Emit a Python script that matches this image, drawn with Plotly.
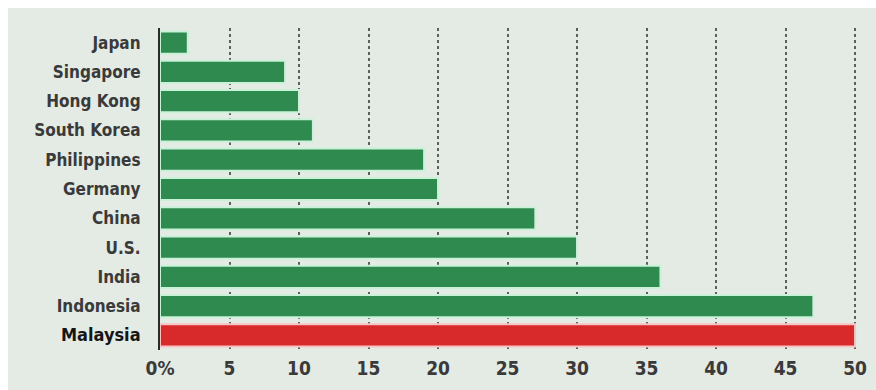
import plotly.graph_objects as go

# Share values per country (percent), listed top to bottom
countries = ["Japan", "Singapore", "Hong Kong", "South Korea", "Philippines",
             "Germany", "China", "U.S.", "India", "Indonesia", "Malaysia"]
values = [2, 9, 10, 11, 19, 20, 27, 30, 36, 47, 50]
highlight = "Malaysia"

tick_vals = [0, 5, 10, 15, 20, 25, 30, 35, 40, 45, 50]
tick_text = ["0%", "5", "10", "15", "20", "25", "30", "35", "40", "45", "50"]

GREEN = "#2f8a4f"
GREEN_EDGE = "#c9f2d9"
RED = "#d82a2a"
RED_EDGE = "#f7c4c4"
PANEL = "#e4eae4"
FONT = "DejaVu Sans Condensed, Roboto, sans-serif"

fill = [RED if c == highlight else GREEN for c in countries]
edge = [RED_EDGE if c == highlight else GREEN_EDGE for c in countries]
labels = [f"<span style='font-size:18px;color:#151515'>{c}</span>" if c == highlight else c
          for c in countries]

fig = go.Figure(go.Bar(
    x=values, y=countries, orientation="h",
    marker=dict(color=fill, line=dict(color=edge, width=2)),
    width=0.76, hoverinfo="x+y",
))

fig.update_layout(
    width=876, height=390,
    margin=dict(l=160, r=14, t=28, b=40),
    paper_bgcolor=PANEL, plot_bgcolor=PANEL,
    showlegend=False,
    font=dict(family=FONT, color="#2b2b2b"),
    shapes=[
        # white strips framing the panel
        dict(type="rect", xref="paper", yref="paper", x0=-0.4, x1=1.2,
             y0=1 + 20 / 322, y1=1.3, fillcolor="white", line_width=0, layer="below"),
        dict(type="rect", xref="paper", yref="paper", x0=-0.4, x1=-152 / 702,
             y0=-0.3, y1=1.3, fillcolor="white", line_width=0, layer="below"),
    ],
)

fig.update_xaxes(
    range=[0, 50.5], tickvals=tick_vals, ticktext=tick_text,
    showgrid=True, gridcolor="#5e5e5e", griddash="dot", gridwidth=1.5,
    zeroline=False, showline=False, ticks="", automargin=False,
    tickfont=dict(size=19, color="#3a3a3a", family=FONT, weight="bold"),
    ticklabelstandoff=5,
)
fig.update_yaxes(
    categoryorder="array", categoryarray=countries, autorange="reversed",
    tickvals=countries, ticktext=labels,
    showgrid=False, zeroline=False, automargin=False,
    showline=True, linecolor="#2b2b2b", linewidth=2,
    ticks="", ticklabelstandoff=14,
    tickfont=dict(size=17, color="#3a3a3a", family=FONT, weight="bold"),
)

fig.write_html("out.html")
